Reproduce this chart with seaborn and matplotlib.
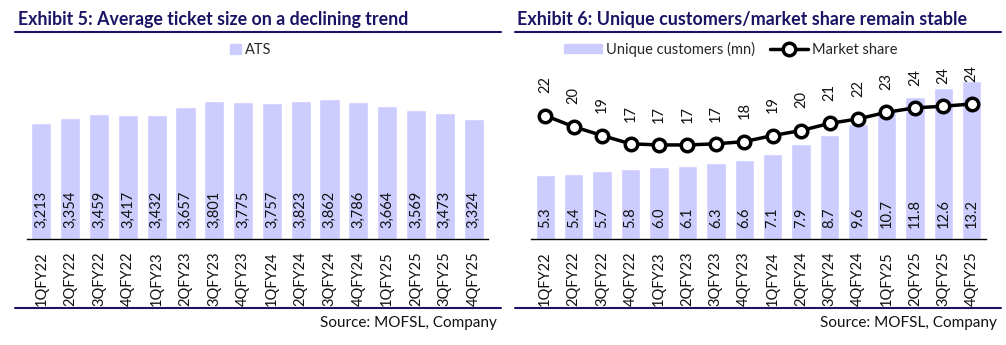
import numpy as np
import pandas as pd
import matplotlib
matplotlib.use("Agg")
import matplotlib.pyplot as plt
from matplotlib.lines import Line2D
from matplotlib.patches import Patch
import seaborn as sns

quarters = ["1QFY22", "2QFY22", "3QFY22", "4QFY22", "1QFY23", "2QFY23", "3QFY23", "4QFY23",
            "1QFY24", "2QFY24", "3QFY24", "4QFY24", "1QFY25", "2QFY25", "3QFY25", "4QFY25"]
ats = [3213, 3354, 3459, 3417, 3432, 3657, 3801, 3775, 3757, 3823, 3862, 3786, 3664, 3569, 3473, 3324]
unique_customers = [5.3, 5.4, 5.7, 5.8, 6.0, 6.1, 6.3, 6.6, 7.1, 7.9, 8.7, 9.6, 10.7, 11.8, 12.6, 13.2]
market_share = [22.3, 20.3, 18.7, 17.2, 17.0, 17.0, 17.2, 17.6, 18.7, 19.6, 20.9, 21.7, 22.9, 23.7, 24.0, 24.4]

sns.set_theme(style="white")
plt.rcParams["font.family"] = ["Lato", "DejaVu Sans"]

BAR = "#CCCCFF"
NAVY = "#1B1464"
W, H = 1006, 345
fig = plt.figure(figsize=(W / 100, H / 100), dpi=100)

def fx(px):
    return px / W

def fy(py):
    return 1 - py / H

def box(x0, x1, ytop, ybot):
    return [fx(x0), fy(ybot), fx(x1) - fx(x0), fy(ytop) - fy(ybot)]

FS = 10.5

# ---------- Left panel ----------
ax1 = fig.add_axes(box(27, 488, 58, 239))
df1 = pd.DataFrame({"q": quarters, "ats": ats})
sns.barplot(data=df1, x="q", y="ats", color=BAR, width=0.7, ax=ax1, saturation=1)
ax1.set_xlim(-0.5, 15.5)
ax1.set_ylim(0, 5000)
for i, v in enumerate(ats):
    ax1.annotate(f"{v:,}", (i, 0), xytext=(0, 8), textcoords="offset points",
                 rotation=90, ha="center", va="bottom", fontsize=FS, color="#111111")

# ---------- Right panel ----------
ax2 = fig.add_axes(box(531, 986, 47, 239))
df2 = pd.DataFrame({"q": quarters, "uc": unique_customers})
sns.barplot(data=df2, x="q", y="uc", color=BAR, width=0.68, ax=ax2, saturation=1)
ax2.set_xlim(-0.5, 15.5)
ax2.set_ylim(0, 16)
for i, v in enumerate(unique_customers):
    ax2.annotate(f"{v:.1f}", (i, 0), xytext=(0, 8), textcoords="offset points",
                 rotation=90, ha="center", va="bottom", fontsize=FS, color="#111111")

ax3 = ax2.twinx()
sns.lineplot(x=np.arange(len(quarters)), y=market_share, ax=ax3, color="black", lw=2.5,
             marker="o", markersize=9, markerfacecolor="white", markeredgecolor="black",
             markeredgewidth=2.5, zorder=5)
ax3.set_xlim(-0.5, 15.5)
ax3.set_ylim(0, 34.7)
ax3.set_yticks([])
ax3.set_ylabel("")
for i, v in enumerate(market_share):
    ax3.annotate(f"{v:.0f}", (i, v), xytext=(0, 16), textcoords="offset points",
                 rotation=90, ha="center", va="bottom", fontsize=FS, color="#111111")

for ax in (ax1, ax2, ax3):
    for s in ("top", "right", "left"):
        ax.spines[s].set_visible(False)
    ax.spines["bottom"].set_visible(ax is not ax3)
    ax.spines["bottom"].set_color("black")
    ax.spines["bottom"].set_linewidth(1.0)
    ax.set_xlabel("")
    ax.set_ylabel("")
    ax.set_yticks([])
    ax.patch.set_alpha(0)
for ax in (ax1, ax2):
    ax.tick_params(axis="x", length=0, pad=9, labelsize=FS, labelcolor="#111111")
    plt.setp(ax.get_xticklabels(), rotation=90, va="top", ha="center")
ax3.tick_params(axis="x", length=0, labelbottom=False)

# ---------- Titles, rules, legends, sources ----------
fig.text(fx(18), fy(20), "Exhibit 5: Average ticket size on a declining trend",
         fontsize=12.8, fontweight="bold", color=NAVY, va="center", ha="left")
fig.text(fx(517), fy(20), "Exhibit 6: Unique customers/market share remain stable",
         fontsize=12.9, fontweight="bold", color=NAVY, va="center", ha="left")

for (x0, x1) in ((15, 501), (515, 1001)):
    for yy in (32, 308):
        fig.add_artist(Line2D([fx(x0), fx(x1)], [fy(yy), fy(yy)], color=NAVY, lw=1.5))

fig.text(fx(497), fy(323), "Source: MOFSL, Company", fontsize=11, ha="right", va="center", color="#111111")
fig.text(fx(997), fy(323), "Source: MOFSL, Company", fontsize=11, ha="right", va="center", color="#111111")

fig.legend(handles=[Patch(color=BAR, label="ATS")], loc="center",
           bbox_to_anchor=(fx(251), fy(50)), frameon=False, fontsize=FS,
           handlelength=0.7, handleheight=0.7, handletextpad=0.3, borderpad=0)

fig.legend(handles=[Patch(color=BAR, label="Unique customers (mn)"),
                    Line2D([0], [0], color="black", lw=2.5, marker="o", markersize=9,
                           markerfacecolor="white", markeredgecolor="black", markeredgewidth=2.5,
                           label="Market share")],
           loc="center", bbox_to_anchor=(fx(731), fy(49)), frameon=False, fontsize=FS, ncol=2,
           handlelength=2.6, handleheight=0.6, handletextpad=0.3, columnspacing=1.0, borderpad=0)

fig.savefig("out.png", dpi=100)
